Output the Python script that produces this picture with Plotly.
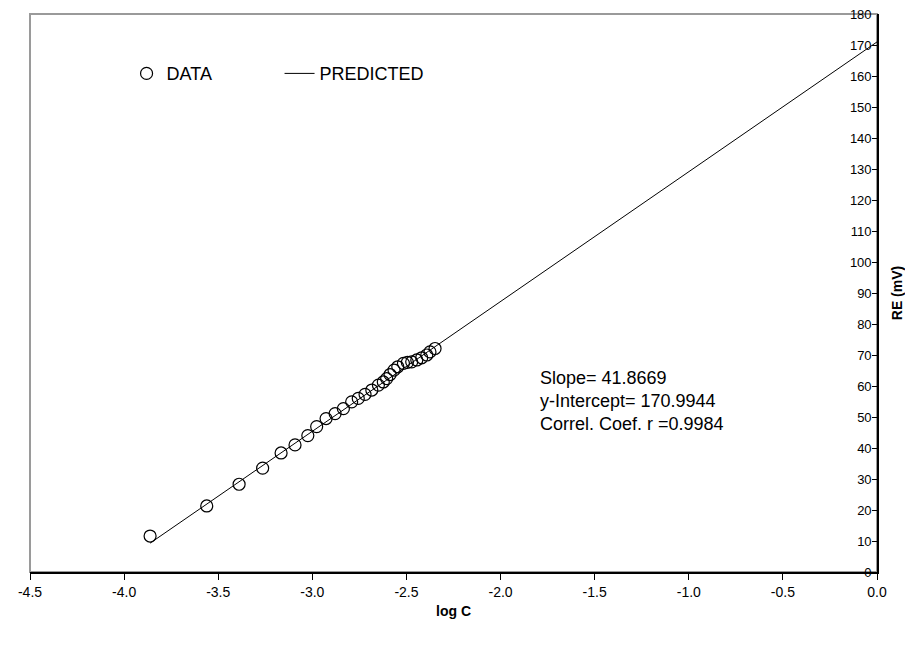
import plotly.graph_objects as go

# Measured data (log C vs RE in mV)
log_c = [-3.862, -3.561, -3.389, -3.264, -3.166, -3.092, -3.024, -2.977, -2.927, -2.879,
         -2.835, -2.791, -2.756, -2.720, -2.684, -2.649, -2.623, -2.605, -2.587, -2.566,
         -2.546, -2.516, -2.495, -2.472, -2.445, -2.419, -2.392, -2.375, -2.348]
re_mv = [11.6, 21.3, 28.3, 33.5, 38.4, 41.0, 44.0, 46.9, 49.5, 51.1,
         52.7, 54.9, 56.0, 57.3, 58.7, 60.3, 61.3, 62.4, 63.7, 65.1,
         66.2, 67.3, 67.6, 67.8, 68.4, 69.1, 70.0, 71.0, 72.1]

# Predicted regression line end points
pred_x = [-3.862, 0.0]
pred_y = [9.30, 170.99]

x_tickvals = [-4.5, -4.0, -3.5, -3.0, -2.5, -2.0, -1.5, -1.0, -0.5, 0.0]
x_ticktext = ["-4.5", "-4.0", "-3.5", "-3.0", "-2.5", "-2.0", "-1.5", "-1.0", "-0.5", "0.0"]

stats_lines = ["Slope= 41.8669", "y-Intercept= 170.9944", "Correl. Coef. r =0.9984"]

FONT = "Liberation Sans, Arial, sans-serif"

fig = go.Figure()
fig.add_trace(go.Scatter(
    x=log_c, y=re_mv, mode="markers", name="DATA",
    marker=dict(symbol="circle-open", size=12, color="black", line=dict(width=1.2, color="black")),
))
fig.add_trace(go.Scatter(
    x=pred_x, y=pred_y, mode="lines", name="PREDICTED",
    line=dict(color="black", width=1),
))

# plot-area frame (gray)
fig.add_shape(type="rect", xref="paper", yref="paper", x0=0, y0=0, x1=1, y1=1,
              line=dict(color="#9a9a9a", width=2), layer="below")

for i, t in enumerate(stats_lines):
    fig.add_annotation(xref="paper", yref="paper", x=(538 - 30) / 847, y=(572 - (378 + 23 * i)) / 558,
                       text=t, showarrow=False, xanchor="left", yanchor="middle",
                       font=dict(family=FONT, size=18, color="black"))

fig.update_layout(
    width=913, height=645,
    margin=dict(l=22, r=44, t=6, b=81),
    paper_bgcolor="white", plot_bgcolor="white",
    font=dict(family=FONT, color="black"),
    showlegend=True,
    legend=dict(orientation="h", x=0.114, y=0.893, xanchor="left", yanchor="middle",
                font=dict(family=FONT, size=18, color="black"), bgcolor="rgba(0,0,0,0)",
                entrywidth=108),
    xaxis=dict(range=[-4.5, 0], tickmode="array", tickvals=x_tickvals, ticktext=x_ticktext,
               ticks="outside", ticklen=6, tickcolor="black", showgrid=False, zeroline=False,
               showline=True, linecolor="black", linewidth=2, automargin=False,
               ticklabeloverflow="allow",
               tickfont=dict(family=FONT, size=14, color="black"),
               title=dict(text="<b>log C</b>", font=dict(family=FONT, size=14, color="black"), standoff=7)),
    yaxis=dict(range=[0, 180], dtick=10, side="right", ticks="inside", ticklen=5,
               ticklabelposition="inside", tickcolor="black", showgrid=False, zeroline=False,
               showline=True, linecolor="black", linewidth=2, automargin=False,
               ticklabeloverflow="allow",
               tickfont=dict(family=FONT, size=13, color="black"),
               title=dict(text="<b>RE (mV)</b>", font=dict(family=FONT, size=14, color="black"), standoff=22)),
)

fig.write_html("out.html")
